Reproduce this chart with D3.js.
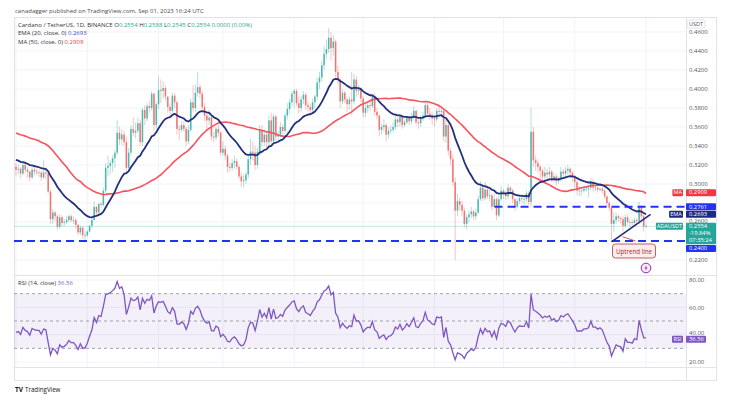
<!DOCTYPE html>
<html>
<head>
<meta charset="utf-8">
<script src="https://cdnjs.cloudflare.com/ajax/libs/d3/7.8.5/d3.min.js"></script>
<style>
  body { margin: 0; background: #fff; }
  text { font-family: "Open Sans", Roboto, sans-serif; }
</style>
</head>
<body>
<div id="chart"></div>
<script>
// ADA/USDT daily candles, Dec 1 2022 -> Sep 1 2023 (open = previous close)
var firstOpen = 0.318;
var closes = [
  // Dec
  0.315,0.316,0.311,0.320,0.315,0.313,0.307,0.315,0.313,0.312,0.312,0.307,0.312,0.311,0.292,0.263,0.270,0.266,0.255,0.265,0.259,0.260,0.262,0.266,0.262,0.262,0.257,0.249,0.254,0.246,0.246,
  // Jan
  0.250,0.256,0.262,0.276,0.270,0.279,0.278,0.293,0.317,0.319,0.322,0.327,0.333,0.354,0.347,0.352,0.344,0.317,0.333,0.358,0.354,0.356,0.364,0.344,0.378,0.369,0.382,0.380,0.395,0.362,0.384,
  // Feb
  0.399,0.398,0.401,0.392,0.381,0.377,0.393,0.386,0.358,0.357,0.362,0.358,0.345,0.357,0.386,0.380,0.396,0.402,0.395,0.381,0.372,0.367,0.370,0.350,0.349,0.358,0.354,0.333,
  // Mar
  0.337,0.330,0.318,0.317,0.322,0.324,0.318,0.308,0.303,0.304,0.310,0.326,0.334,0.333,0.320,0.334,0.357,0.344,0.352,0.344,0.367,0.345,0.371,0.350,0.352,0.360,0.356,0.372,0.379,0.386,0.395,
  // Apr
  0.398,0.385,0.380,0.389,0.394,0.383,0.381,0.378,0.386,0.392,0.407,0.412,0.425,0.437,0.442,0.454,0.443,0.450,0.418,0.410,0.387,0.396,0.389,0.384,0.389,0.387,0.410,0.398,0.399,0.390,
  // May
  0.375,0.380,0.383,0.382,0.392,0.376,0.372,0.357,0.360,0.362,0.352,0.356,0.357,0.360,0.368,0.365,0.371,0.362,0.365,0.370,0.366,0.371,0.377,0.365,0.364,0.369,0.372,0.383,0.374,0.372,0.369,
  // Jun
  0.368,0.377,0.376,0.377,0.350,0.362,0.335,0.326,0.302,0.272,0.282,0.278,0.272,0.258,0.265,0.268,0.271,0.266,0.270,0.284,0.296,0.285,0.294,0.287,0.288,0.276,0.284,0.267,0.284,0.293,
  // Jul
  0.291,0.287,0.296,0.293,0.284,0.276,0.282,0.285,0.284,0.284,0.290,0.281,0.355,0.325,0.322,0.318,0.314,0.308,0.312,0.310,0.313,0.305,0.308,0.303,0.305,0.313,0.311,0.314,0.316,0.312,0.307,
  // Aug
  0.302,0.293,0.293,0.293,0.295,0.295,0.296,0.302,0.296,0.296,0.294,0.295,0.293,0.287,0.280,0.275,0.258,0.262,0.266,0.264,0.263,0.256,0.265,0.260,0.260,0.259,0.262,0.261,0.276,0.266,0.2554,
  // Sep
  0.2554
];
var highs = [
  0.322,0.320,0.318,0.323,0.324,0.318,0.314,0.318,0.320,0.316,0.315,0.314,0.325,0.318,0.313,0.294,0.274,0.272,0.268,0.268,0.267,0.263,0.266,0.268,0.268,0.266,0.264,0.258,0.256,0.255,0.250,
  0.251,0.257,0.264,0.282,0.277,0.280,0.281,0.296,0.322,0.330,0.325,0.330,0.336,0.367,0.360,0.358,0.356,0.350,0.338,0.362,0.370,0.365,0.370,0.368,0.380,0.383,0.385,0.387,0.398,0.396,0.386,
  0.413,0.410,0.408,0.404,0.392,0.385,0.396,0.396,0.388,0.362,0.366,0.366,0.360,0.362,0.390,0.404,0.405,0.418,0.405,0.398,0.385,0.374,0.378,0.373,0.355,0.360,0.364,0.356,
  0.345,0.340,0.332,0.322,0.326,0.330,0.327,0.320,0.312,0.310,0.313,0.330,0.348,0.345,0.340,0.338,0.362,0.362,0.358,0.356,0.372,0.375,0.374,0.373,0.356,0.365,0.363,0.375,0.385,0.390,0.398,
  0.400,0.400,0.392,0.393,0.398,0.396,0.387,0.385,0.390,0.394,0.412,0.418,0.430,0.445,0.452,0.464,0.460,0.457,0.452,0.425,0.412,0.400,0.398,0.392,0.392,0.418,0.416,0.414,0.404,0.402,
  0.392,0.384,0.387,0.390,0.395,0.396,0.380,0.373,0.363,0.368,0.364,0.360,0.362,0.365,0.374,0.370,0.374,0.373,0.368,0.372,0.372,0.375,0.382,0.378,0.368,0.372,0.376,0.386,0.388,0.380,0.376,
  0.372,0.380,0.384,0.382,0.378,0.368,0.366,0.338,0.330,0.307,0.290,0.286,0.282,0.275,0.268,0.272,0.276,0.273,0.274,0.288,0.303,0.300,0.302,0.298,0.294,0.290,0.290,0.286,0.288,0.298,
  0.295,0.293,0.300,0.298,0.295,0.285,0.285,0.288,0.288,0.289,0.293,0.292,0.380,0.360,0.330,0.326,0.320,0.316,0.318,0.316,0.318,0.315,0.312,0.310,0.308,0.318,0.316,0.318,0.320,0.318,0.313,
  0.310,0.304,0.298,0.297,0.298,0.297,0.299,0.306,0.305,0.299,0.298,0.297,0.297,0.295,0.288,0.282,0.277,0.270,0.270,0.268,0.266,0.266,0.268,0.268,0.263,0.262,0.264,0.264,0.281,0.278,0.268,
  0.2588
];
var lows = [
  0.309,0.310,0.306,0.309,0.312,0.307,0.303,0.305,0.309,0.309,0.307,0.303,0.305,0.305,0.290,0.258,0.258,0.261,0.252,0.253,0.256,0.256,0.258,0.260,0.260,0.258,0.253,0.246,0.246,0.242,0.240,
  0.244,0.249,0.253,0.262,0.267,0.268,0.275,0.276,0.291,0.308,0.310,0.313,0.317,0.330,0.341,0.341,0.340,0.312,0.315,0.330,0.350,0.348,0.353,0.340,0.340,0.362,0.366,0.375,0.377,0.355,0.358,
  0.379,0.385,0.390,0.388,0.375,0.370,0.374,0.380,0.352,0.346,0.355,0.355,0.340,0.342,0.355,0.376,0.376,0.392,0.390,0.376,0.366,0.357,0.362,0.346,0.344,0.346,0.350,0.330,
  0.330,0.325,0.312,0.313,0.314,0.316,0.315,0.305,0.297,0.296,0.300,0.306,0.320,0.325,0.315,0.316,0.330,0.340,0.340,0.338,0.340,0.340,0.343,0.345,0.346,0.349,0.350,0.352,0.368,0.374,0.382,
  0.380,0.382,0.374,0.376,0.384,0.378,0.376,0.372,0.375,0.380,0.388,0.400,0.408,0.420,0.432,0.438,0.430,0.435,0.412,0.405,0.380,0.384,0.385,0.376,0.378,0.372,0.384,0.392,0.394,0.386,
  0.370,0.370,0.375,0.377,0.380,0.372,0.368,0.350,0.352,0.355,0.345,0.348,0.353,0.354,0.357,0.360,0.360,0.358,0.360,0.363,0.362,0.363,0.368,0.362,0.358,0.360,0.366,0.370,0.370,0.367,0.362,
  0.360,0.365,0.372,0.370,0.345,0.343,0.330,0.320,0.298,0.220,0.266,0.272,0.266,0.254,0.252,0.260,0.264,0.262,0.262,0.268,0.282,0.282,0.283,0.284,0.282,0.272,0.274,0.262,0.265,0.282,
  0.284,0.283,0.284,0.288,0.280,0.272,0.274,0.279,0.280,0.278,0.281,0.278,0.276,0.318,0.314,0.312,0.306,0.302,0.303,0.304,0.305,0.302,0.302,0.298,0.300,0.302,0.305,0.306,0.310,0.306,0.302,
  0.296,0.288,0.287,0.288,0.291,0.292,0.286,0.293,0.292,0.292,0.291,0.292,0.290,0.284,0.276,0.272,0.239,0.250,0.258,0.260,0.258,0.250,0.254,0.257,0.255,0.255,0.256,0.257,0.258,0.263,0.250,
  0.2545
];
// closes before the visible window (Oct 12 - Nov 30 2022), only used to warm up the indicators
var priorCloses = [
  0.370,0.360,0.355,0.352,0.356,0.362,0.356,0.350,0.348,0.353,0.360,0.371,0.361,0.372,0.380,0.378,0.392,0.419,0.410,0.406,
  0.410,0.395,0.400,0.432,0.426,0.402,0.390,0.341,0.318,0.372,0.351,0.341,0.325,0.333,0.336,0.323,0.320,0.322,0.324,0.306,
  0.302,0.313,0.319,0.320,0.322,0.321,0.318,0.310,0.315,0.318
];

var priceTicks = [0.22, 0.24, 0.26, 0.28, 0.30, 0.32, 0.34, 0.36, 0.38, 0.40, 0.42, 0.44, 0.46];
// tick labels hidden under the price boxes on the reference
var hiddenTicks = [0.24, 0.28];
var rsiTicks = [20, 40, 60, 80];
var monthLabels = ["Dec", "2023", "Feb", "Mar", "Apr", "May", "Jun", "Jul", "Aug", "Sep"];
var levels = [
  { price: 0.2761, fromIdx: 209 },
  { price: 0.2400, fromIdx: 0 }
];
var trendLine = [{ idx: 259, price: 0.2390 }, { idx: 276, price: 0.2680 }];
var legendValues = { open: "0.2554", high: "0.2588", low: "0.2545", close: "0.2554", change: "0.0000 (0.00%)", ema: "0.2693", ma: "0.2909", rsi: "36.56" };

var W = 733, H = 406;
var left = 14, right = 686, axisRight = 716;
var mainTop = 17, mainBottom = 275, rsiBottom = 367, frameBottom = 380;

var svg = d3.select("#chart").append("svg")
  .attr("width", W)
  .attr("height", H)
  .style("display", "block");

var day0 = Date.UTC(2022, 11, 1);
var dates = closes.map(function(c, i) { return new Date(day0 + i * 864e5); });
var candles = closes.map(function(c, i) {
  return { date: dates[i], open: i === 0 ? firstOpen : closes[i - 1], close: c, high: highs[i], low: lows[i] };
});

var x = d3.scaleUtc()
  .domain([new Date(day0), new Date(Date.UTC(2023, 8, 1))])
  .range([16, 646]);
var y = d3.scaleLinear().domain([0.22, 0.46]).range([260, 32]);
var yR = d3.scaleLinear().domain([20, 80]).range([362, 280]);
var idxDate = function(i) { return new Date(day0 + i * 864e5); };

// indicators
var all = priorCloses.concat(closes);
var off = priorCloses.length;
var ema = [], ma = [], rsi = [];
var k = 2 / 21, e = d3.mean(all.slice(0, 20));
all.forEach(function(c, i) {
  if (i >= 20) e = c * k + e * (1 - k);
  ema.push(i >= 19 ? e : null);
  ma.push(i >= 49 ? d3.mean(all.slice(i - 49, i + 1)) : null);
});
var ag = 0, al = 0;
for (var i = 1; i < all.length; i++) {
  var ch = all[i] - all[i - 1];
  var g = Math.max(ch, 0), l = Math.max(-ch, 0);
  if (i <= 14) { ag += g / 14; al += l / 14; rsi.push(null); }
  else { ag = (ag * 13 + g) / 14; al = (al * 13 + l) / 14; rsi.push(100 - 100 / (1 + ag / al)); }
}
rsi.unshift(null);

// clips
var defs = svg.append("defs");
defs.append("clipPath").attr("id", "clipMain").append("rect")
  .attr("x", left).attr("y", mainTop).attr("width", right - left).attr("height", mainBottom - mainTop);
defs.append("clipPath").attr("id", "clipRsi").append("rect")
  .attr("x", left).attr("y", mainBottom).attr("width", right - left).attr("height", rsiBottom - mainBottom);
defs.append("clipPath").attr("id", "clipAxis").append("rect")
  .attr("x", left).attr("y", rsiBottom).attr("width", right - left).attr("height", frameBottom - rsiBottom);

// header
svg.append("text").attr("x", 15).attr("y", 13)
  .attr("font-size", 6).attr("fill", "#4a4a4a")
  .text("canadagger published on TradingView.com, Sep 01, 2023 16:24 UTC");

// grid
var grid = svg.append("g");
grid.selectAll(".hg").data(priceTicks).enter().append("line")
  .attr("x1", left).attr("x2", right)
  .attr("y1", function(d) { return y(d); }).attr("y2", function(d) { return y(d); })
  .attr("stroke", "#f0f3fa").attr("stroke-width", 1);
grid.selectAll(".rg").data(rsiTicks).enter().append("line")
  .attr("x1", left).attr("x2", right)
  .attr("y1", function(d) { return yR(d); }).attr("y2", function(d) { return yR(d); })
  .attr("stroke", "#f0f3fa").attr("stroke-width", 1);
var monthDates = monthLabels.map(function(m, i) { return new Date(Date.UTC(2022, 11 + i, 1)); });
grid.selectAll(".vg").data(monthDates).enter().append("line")
  .attr("x1", function(d) { return x(d); }).attr("x2", function(d) { return x(d); })
  .attr("y1", mainTop).attr("y2", frameBottom)
  .attr("stroke", "#f0f3fa").attr("stroke-width", 1)
  .attr("clip-path", "url(#clipMain)");
grid.selectAll(".vg2").data(monthDates).enter().append("line")
  .attr("x1", function(d) { return x(d); }).attr("x2", function(d) { return x(d); })
  .attr("y1", mainBottom).attr("y2", frameBottom)
  .attr("stroke", "#f0f3fa").attr("stroke-width", 1)
  .attr("clip-path", "url(#clipRsi)");

// frame
svg.append("rect").attr("x", left + 0.5).attr("y", mainTop + 0.5)
  .attr("width", axisRight - left).attr("height", frameBottom - mainTop)
  .attr("fill", "none").attr("stroke", "#e0e3eb");
[mainBottom, rsiBottom].forEach(function(yy) {
  svg.append("line").attr("x1", left).attr("x2", axisRight).attr("y1", yy + 0.5).attr("y2", yy + 0.5)
    .attr("stroke", "#e0e3eb");
});
svg.append("line").attr("x1", right + 0.5).attr("x2", right + 0.5).attr("y1", mainTop).attr("y2", frameBottom)
  .attr("stroke", "#e0e3eb");

// main pane
var main = svg.append("g").attr("clip-path", "url(#clipMain)");

// current price line
main.append("line").attr("x1", left).attr("x2", right)
  .attr("y1", y(0.2554)).attr("y2", y(0.2554))
  .attr("stroke", "#26a69a").attr("stroke-opacity", 0.25).attr("stroke-width", 1);

// candles
var cg = main.append("g");
cg.selectAll("line").data(candles).enter().append("line")
  .attr("x1", function(d) { return x(d.date); }).attr("x2", function(d) { return x(d.date); })
  .attr("y1", function(d) { return y(d.high); }).attr("y2", function(d) { return y(d.low); })
  .attr("stroke", function(d) { return d.close >= d.open ? "#26a69a" : "#ef5350"; })
  .attr("stroke-opacity", 0.5).attr("stroke-width", 0.7);
cg.selectAll("rect").data(candles).enter().append("rect")
  .attr("x", function(d) { return x(d.date) - 0.8; })
  .attr("width", 1.6)
  .attr("y", function(d) { return y(Math.max(d.open, d.close)); })
  .attr("height", function(d) { return Math.max(0.7, Math.abs(y(d.open) - y(d.close))); })
  .attr("fill", function(d) { return d.close >= d.open ? "#26a69a" : "#ef5350"; })
  .attr("fill-opacity", 0.72);

// MA 50 and EMA 20
var visIdx = d3.range(closes.length);
var maLine = d3.line().x(function(i) { return x(dates[i]); }).y(function(i) { return y(ma[i + off]); });
var emaLine = d3.line().x(function(i) { return x(dates[i]); }).y(function(i) { return y(ema[i + off]); });
main.append("path").datum(visIdx).attr("d", maLine)
  .attr("fill", "none").attr("stroke", "#f7525f").attr("stroke-width", 1.6);
main.append("path").datum(visIdx).attr("d", emaLine)
  .attr("fill", "none").attr("stroke", "#22307e").attr("stroke-width", 1.8);

// horizontal levels
main.selectAll(".lvl").data(levels).enter().append("line")
  .attr("x1", function(d) { return x(idxDate(d.fromIdx)) - 2; }).attr("x2", right)
  .attr("y1", function(d) { return y(d.price); }).attr("y2", function(d) { return y(d.price); })
  .attr("stroke", "#2432f5").attr("stroke-width", 2).attr("stroke-dasharray", "8,5");

// uptrend line
main.append("line")
  .attr("x1", x(idxDate(trendLine[0].idx))).attr("y1", y(trendLine[0].price))
  .attr("x2", x(idxDate(trendLine[1].idx))).attr("y2", y(trendLine[1].price))
  .attr("stroke", "#1d2b7c").attr("stroke-width", 1.6);

// callout
var cx0 = x(idxDate(259)) + 1;
main.append("line").attr("x1", cx0 + 10).attr("y1", y(0.2445)).attr("x2", cx0 + 23).attr("y2", y(0.2400))
  .attr("stroke", "#b23a3a").attr("stroke-width", 0.8);
main.append("rect").attr("x", cx0).attr("y", 244).attr("width", 43).attr("height", 14).attr("rx", 3)
  .attr("fill", "#fdecec").attr("stroke", "#b23a3a").attr("stroke-width", 0.8);
main.append("text").attr("x", cx0 + 21.5).attr("y", 253.5).attr("text-anchor", "middle")
  .attr("font-size", 6.2).attr("fill", "#a52a2a").text("Uptrend line");

// lightning icon
var ic = svg.append("g").attr("transform", "translate(" + x(idxDate(274)) + ",268)");
ic.append("circle").attr("r", 4.8).attr("fill", "#f6ecfa").attr("stroke", "#9c27b0").attr("stroke-width", 1);
ic.append("path").attr("d", "M0.8,-3 L-1.6,0.4 L0,0.4 L-0.8,3 L1.6,-0.4 L0,-0.4 Z").attr("fill", "#9c27b0");

// RSI pane
var rp = svg.append("g").attr("clip-path", "url(#clipRsi)");
rp.append("rect").attr("x", left).attr("width", right - left)
  .attr("y", yR(70)).attr("height", yR(30) - yR(70))
  .attr("fill", "#7e57c2").attr("fill-opacity", 0.09);
rp.selectAll(".rl").data([70, 50, 30]).enter().append("line")
  .attr("x1", left).attr("x2", right)
  .attr("y1", function(d) { return yR(d); }).attr("y2", function(d) { return yR(d); })
  .attr("stroke", "#9ea2ab").attr("stroke-width", 1).attr("stroke-dasharray", "3,3");
var rsiLine = d3.line().x(function(i) { return x(dates[i]); }).y(function(i) { return yR(rsi[i + off]); });
rp.append("path").datum(visIdx).attr("d", rsiLine)
  .attr("fill", "none").attr("stroke", "#7e57c2").attr("stroke-width", 1.3);

// axes
var pa = svg.append("g").attr("transform", "translate(" + right + ",0)")
  .call(d3.axisRight(y).tickValues(priceTicks.filter(function(t) { return hiddenTicks.indexOf(t) < 0; }))
    .tickFormat(d3.format(".4f")).tickSize(0).tickPadding(3));
var ra = svg.append("g").attr("transform", "translate(" + right + ",0)")
  .call(d3.axisRight(yR).tickValues(rsiTicks).tickFormat(d3.format(".2f")).tickSize(0).tickPadding(3));
var ta = svg.append("g").attr("transform", "translate(0," + rsiBottom + ")").attr("clip-path", "url(#clipAxis)")
  .call(d3.axisBottom(x).tickValues(monthDates).tickFormat(function(d, i) { return monthLabels[i]; }).tickSize(0).tickPadding(4));
[pa, ra, ta].forEach(function(a) {
  a.select(".domain").remove();
  a.selectAll("text").attr("font-size", 6).attr("fill", "#50535e").style("font-family", "'Open Sans', Roboto, sans-serif");
});
// labels squeezed between the price boxes: nudge them up a little
pa.selectAll(".tick").filter(function(d) { return d === 0.26; }).select("text").attr("dy", "0.02em");
ra.selectAll(".tick").filter(function(d) { return d === 40; }).select("text").attr("dy", "-0.1em");

// USDT box
svg.append("rect").attr("x", 687).attr("y", 20).attr("width", 18).attr("height", 8).attr("rx", 1.5)
  .attr("fill", "#fff").attr("stroke", "#e0e3eb");
svg.append("text").attr("x", 696).attr("y", 26.2).attr("text-anchor", "middle")
  .attr("font-size", 5.5).attr("fill", "#50535e").text("USDT");

// right side price labels
var boxes = [
  { tag: "MA", lines: [legendValues.ma], price: 0.2909, color: "#f23645" },
  { tag: null, lines: ["0.2761"], price: 0.2761, color: "#2432f5" },
  { tag: "EMA", lines: [legendValues.ema], price: 0.2693, color: "#1d2b7c" },
  { tag: "ADAUSDT", lines: ["0.2554", "-19.84%", "07:35:24"], price: 0.2554, color: "#26a69a" },
  { tag: null, lines: ["0.2400"], price: 0.2400, color: "#2432f5" }
];
var bh = 7, prevBottom = -1e9;
boxes.forEach(function(b) {
  var h = b.lines.length === 1 ? bh : 21.5;
  var top = Math.max(y(b.price) - bh / 2, prevBottom + 0.6);
  prevBottom = top + h;
  svg.append("rect").attr("x", right).attr("y", top).attr("width", 30).attr("height", h).attr("rx", 1)
    .attr("fill", b.color);
  b.lines.forEach(function(t, j) {
    svg.append("text").attr("x", right + 3).attr("y", top + 5.3 + j * 6.7)
      .attr("font-size", 5.8).attr("fill", "#fff").text(t);
  });
  if (b.tag) {
    var tw = b.tag.length * 3.3 + 4;
    svg.append("rect").attr("x", right - 3 - tw).attr("y", top).attr("width", tw).attr("height", bh).attr("rx", 1)
      .attr("fill", b.color);
    svg.append("text").attr("x", right - 3 - tw / 2).attr("y", top + 5.3).attr("text-anchor", "middle")
      .attr("font-size", 5.6).attr("fill", "#fff").text(b.tag);
  }
});
// RSI value label
var rTop = yR(36.56) - bh / 2;
svg.append("rect").attr("x", right).attr("y", rTop).attr("width", 20).attr("height", bh).attr("rx", 1).attr("fill", "#7e57c2");
svg.append("text").attr("x", right + 3).attr("y", rTop + 5.3).attr("font-size", 5.8).attr("fill", "#fff").text(legendValues.rsi);
svg.append("rect").attr("x", right - 14).attr("y", rTop).attr("width", 11).attr("height", bh).attr("rx", 1).attr("fill", "#7e57c2");
svg.append("text").attr("x", right - 8.5).attr("y", rTop + 5.3).attr("text-anchor", "middle").attr("font-size", 5.4).attr("fill", "#fff").text("RSI");

// legends
var lg = svg.append("g").attr("font-size", 6).attr("fill", "#333");
var l1 = lg.append("text").attr("x", 18).attr("y", 26.5);
l1.append("tspan").text("Cardano / TetherUS, 1D, BINANCE  ");
[["O", legendValues.open], ["H", legendValues.high], ["L", legendValues.low], ["C", legendValues.close]].forEach(function(p) {
  l1.append("tspan").text(" " + p[0]);
  l1.append("tspan").attr("fill", "#26a69a").text(p[1]);
});
l1.append("tspan").attr("fill", "#26a69a").text(" " + legendValues.change);
var l2 = lg.append("text").attr("x", 18).attr("y", 35.3);
l2.append("tspan").text("EMA (20, close, 0) ");
l2.append("tspan").attr("fill", "#3b4bb5").text(legendValues.ema);
var l3 = lg.append("text").attr("x", 18).attr("y", 43.6);
l3.append("tspan").text("MA (50, close, 0) ");
l3.append("tspan").attr("fill", "#f23645").text(legendValues.ma);
var l4 = lg.append("text").attr("x", 18).attr("y", 284.5);
l4.append("tspan").text("RSI (14, close) ");
l4.append("tspan").attr("fill", "#7e57c2").text(legendValues.rsi);

// TradingView footer
svg.append("text").attr("x", 15).attr("y", 391.5).attr("font-size", 6.5).attr("font-weight", 700).attr("fill", "#131722").text("TV");
svg.append("text").attr("x", 25).attr("y", 391.5).attr("font-size", 6.2).attr("fill", "#131722").text("TradingView");
</script>
</body>
</html>
